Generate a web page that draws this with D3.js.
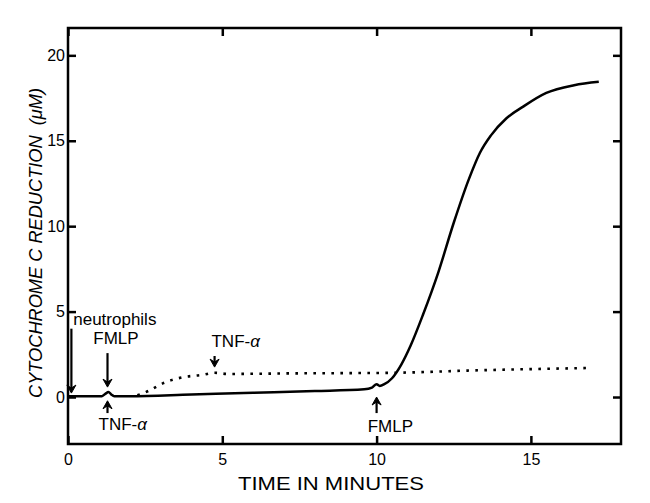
<!DOCTYPE html>
<html>
<head>
<meta charset="utf-8">
<script src="https://cdn.jsdelivr.net/npm/d3@7"></script>
<style>
  body { margin: 0; background: #fff; }
  svg text { font-family: "Liberation Sans", Arial, sans-serif; fill: #000; }
</style>
</head>
<body>
<svg id="grafico" width="650" height="503"></svg>
<script>
// dados
const xTicks = [0, 5, 10, 15];
const yTicks = [0, 5, 10, 15, 20];

// curva continua (FMLP + TNF)
const solidTime  = [0, 1.1, 1.22, 1.31, 1.4, 1.5, 2, 4, 6, 8, 9.6, 9.85, 10.0, 10.1, 10.25, 10.5, 10.8, 11.1, 11.5, 12, 12.5, 13, 13.35, 13.7, 14.2, 14.75, 15.5, 16.4, 17.2];
const solidValue = [0.05, 0.05, 0.2, 0.3, 0.15, 0.05, 0.05, 0.15, 0.25, 0.35, 0.45, 0.55, 0.75, 0.65, 0.75, 1.1, 1.9, 3.0, 4.8, 7.3, 10.2, 12.8, 14.3, 15.3, 16.3, 17.0, 17.8, 18.25, 18.45];

// curva pontilhada
const dottedTime  = [2.25, 2.6, 3.07, 3.7, 4.37, 4.75, 5.2, 7, 10.6, 13, 16.9];
const dottedValue = [0.1, 0.35, 0.8, 1.15, 1.3, 1.42, 1.35, 1.38, 1.42, 1.55, 1.7];

// setas: x, y inicio, y fim (unidades do grafico)
const arrowX     = [0.11, 1.28, 1.28, 4.75, 10.0];
const arrowFrom  = [4.0, 2.57, -0.94, 2.4, -0.94];
const arrowTo    = [0.23, 0.58, -0.22, 1.75, 0.0];

// rotulos das setas
const labelText = ["neutrophils", "FMLP", "TNF-", "TNF-", "FMLP"];
const labelX    = [0.17, 0.82, 0.99, 4.65, 9.71];
const labelY    = [4.2, 3.1, -1.93, 2.92, -2.05];
const labelAlpha = [false, false, true, true, false];

const margin = {top: 28, right: 29, bottom: 59, left: 68};
const width = 650 - margin.left - margin.right;
const height = 503 - margin.top - margin.bottom;

const svg = d3.select('#grafico');
const g = svg.append('g')
    .attr('transform', 'translate(' + margin.left + ',' + margin.top + ')');

const x = d3.scaleLinear().domain([0, 17.92]).range([0, width]);
const y = d3.scaleLinear().domain([-2.75, 21.6]).range([height, 0]);

const tickFont = '16px';
const labelFont = '17px';
const titleFont = '19px';

// eixos - ticks para dentro, espelhados
function eixo(axis, transform) {
    const a = g.append('g').attr('transform', transform).call(axis);
    a.select('.domain').remove();
    a.selectAll('line').attr('stroke', '#000').attr('stroke-width', 2.5);
    a.selectAll('text').style('font-size', tickFont).attr('fill', '#000');
    return a;
}

eixo(d3.axisBottom(x).tickValues(xTicks).tickSize(-8).tickPadding(10).tickFormat(d3.format('d')),
     'translate(0,' + height + ')');
eixo(d3.axisTop(x).tickValues(xTicks).tickSize(-8).tickFormat(''), 'translate(0,0)');
eixo(d3.axisLeft(y).tickValues(yTicks).tickSize(-8).tickPadding(3).tickFormat(d3.format('d')),
     'translate(0,0)');
eixo(d3.axisRight(y).tickValues(yTicks).tickSize(-8).tickFormat(''), 'translate(' + width + ',0)');

// moldura
g.append('rect')
    .attr('width', width).attr('height', height)
    .attr('fill', 'none').attr('stroke', '#000').attr('stroke-width', 2.5);

const line = d3.line()
    .x(d => x(d[0]))
    .y(d => y(d[1]))
    .curve(d3.curveMonotoneX);

g.append('path')
    .datum(solidTime.map((t, i) => [t, solidValue[i]]))
    .attr('d', line)
    .attr('fill', 'none').attr('stroke', '#000').attr('stroke-width', 2.5);

g.append('path')
    .datum(dottedTime.map((t, i) => [t, dottedValue[i]]))
    .attr('d', line)
    .attr('fill', 'none').attr('stroke', '#000').attr('stroke-width', 2.6)
    .attr('stroke-dasharray', '2.6,6.4');

// setas
arrowX.forEach(function(ax, i) {
    const px = x(ax), y1 = y(arrowFrom[i]), y2 = y(arrowTo[i]);
    const dir = y2 > y1 ? 1 : -1;
    g.append('line')
        .attr('x1', px).attr('x2', px)
        .attr('y1', y1).attr('y2', y2 - dir * 5)
        .attr('stroke', '#000').attr('stroke-width', 2.2);
    g.append('path')
        .attr('d', 'M' + (px - 4.5) + ',' + (y2 - dir * 8) + 'L' + px + ',' + y2 + 'L' + (px + 4.5) + ',' + (y2 - dir * 8) + 'L' + px + ',' + (y2 - dir * 5) + 'Z')
        .attr('fill', '#000').attr('stroke', '#000').attr('stroke-width', 1).attr('stroke-linejoin', 'miter');
});

labelText.forEach(function(t, i) {
    const txt = g.append('text')
        .attr('x', x(labelX[i])).attr('y', y(labelY[i]))
        .style('font-size', labelFont)
        .text(t);
    if (labelAlpha[i]) {
        txt.append('tspan').style('font-style', 'italic').text('\u03b1');
    }
});

// titulos (a fonte original e mais larga - estica com textLength)
svg.append('text')
    .attr('x', 331)
    .attr('y', 490)
    .attr('text-anchor', 'middle')
    .attr('textLength', 186)
    .attr('lengthAdjust', 'spacingAndGlyphs')
    .style('font-size', titleFont)
    .text('TIME IN MINUTES');

svg.append('text')
    .attr('transform', 'translate(42,243) rotate(-90)')
    .attr('text-anchor', 'middle')
    .attr('textLength', 310)
    .attr('lengthAdjust', 'spacingAndGlyphs')
    .style('font-size', titleFont)
    .style('font-style', 'italic')
    .attr('xml:space', 'preserve')
    .text('CYTOCHROME C REDUCTION  (\u03bcM)');
</script>
</body>
</html>
